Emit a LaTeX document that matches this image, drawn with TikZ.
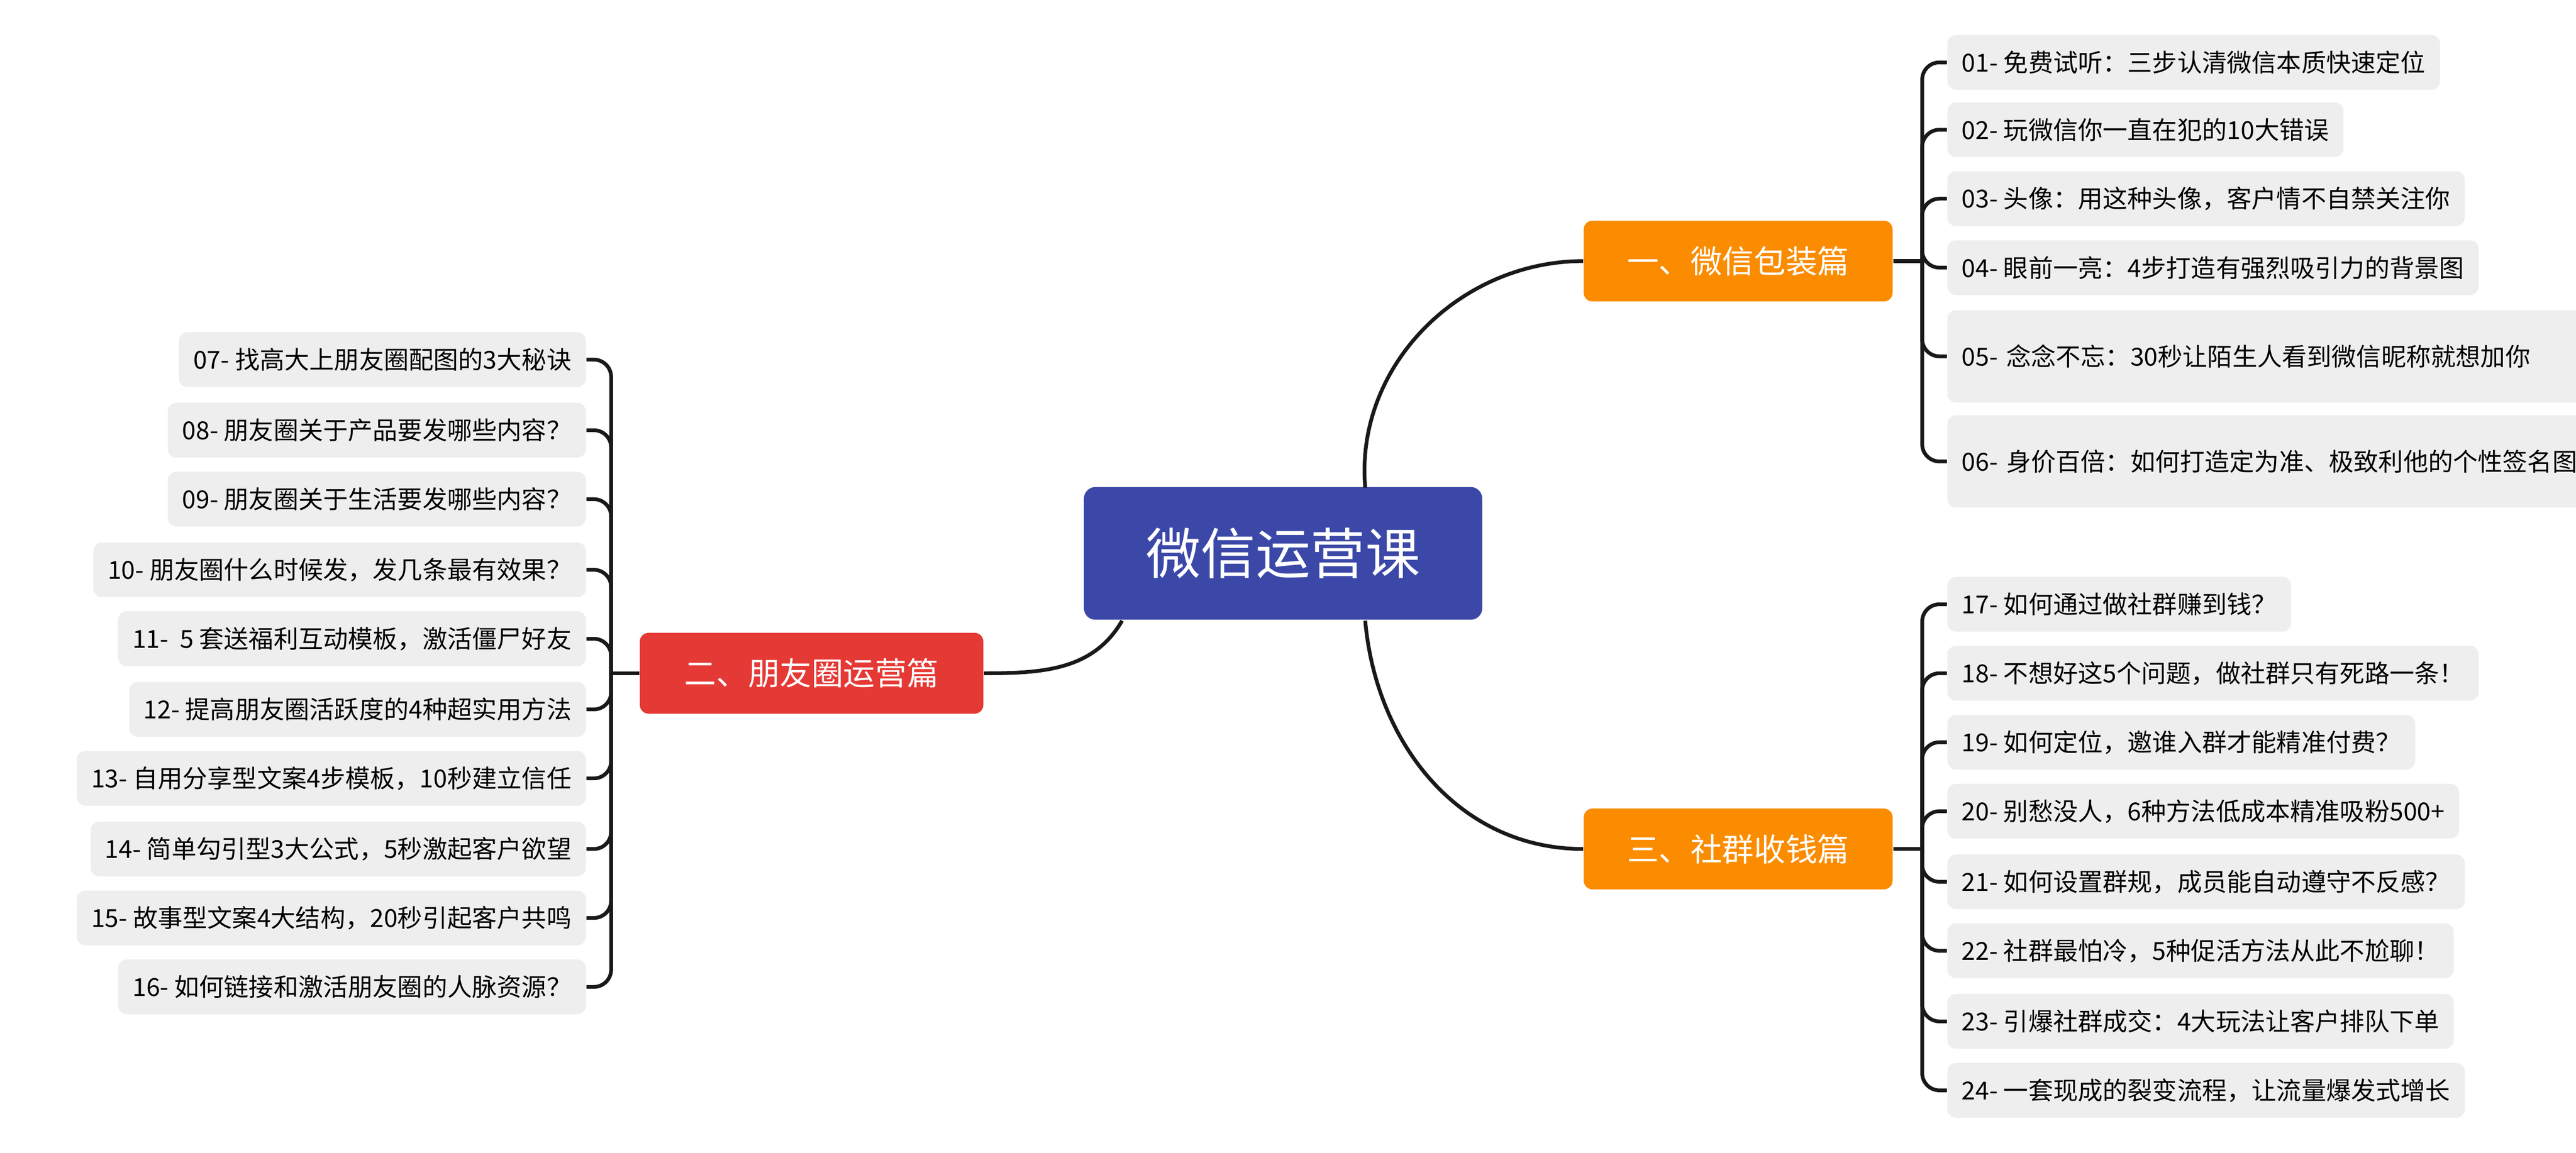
\documentclass[tikz,border=0pt]{standalone}
\usepackage{fontspec}
\setmainfont{Noto Sans CJK SC}
\definecolor{rootblue}{HTML}{3B48A8}
\definecolor{branchorange}{HTML}{FB8C00}
\definecolor{branchred}{HTML}{E53935}
\definecolor{leafgray}{HTML}{EEEEEE}
\tikzset{
  rootbox/.style={fill=rootblue, rounded corners=4pt, text=white, font=\fontsize{19}{22}\selectfont, minimum width=138pt, minimum height=46pt},
  branchbox/.style={rounded corners=3pt, text=white, font=\fontsize{11}{13}\selectfont, minimum height=28pt, inner xsep=10pt},
  leafbox/.style={fill=leafgray, rounded corners=3pt, font=\fontsize{8.6}{12}\selectfont, minimum height=19pt, inner xsep=5pt},
  link/.style={line width=1.3pt, black!90},
}
\begin{document}
\begin{tikzpicture}[x=0.02cm, y=-0.02cm]
    \useasboundingbox (0,0) rectangle (1568,702);
    % centre and branches
    \node[rootbox] (root) at (781,337) {微信运营课};
    \node[branchbox, fill=branchorange, minimum width=107pt] (pack) at (1058,159) {一、微信包装篇};
    \node[branchbox, fill=branchorange, minimum width=107pt] (group) at (1058,517) {三、社群收钱篇};
    \node[branchbox, fill=branchred, minimum width=119pt] (moment) at (494,410) {二、朋友圈运营篇};
    \draw[link] (831,297) to[out=95, in=180] (pack.west);
    \draw[link] (831,378) to[out=-85, in=180] (group.west);
    \draw[link] (683,378) to[out=-120, in=0] (moment.east);
    % right top leaves
    \coordinate (packbar) at (1170,159);
    \node[leafbox, anchor=west] (l01) at (1185,38) {01- 免费试听：三步认清微信本质快速定位};
    \node[leafbox, anchor=west] (l02) at (1185,79) {02- 玩微信你一直在犯的10大错误};
    \node[leafbox, anchor=west] (l03) at (1185,121) {03- 头像：用这种头像，客户情不自禁关注你};
    \node[leafbox, anchor=west] (l04) at (1185,163) {04- 眼前一亮：4步打造有强烈吸引力的背景图};
    \node[leafbox, anchor=west, text width=346, align=left, minimum height=32pt] (l05) at (1185,217) {05- 念念不忘：30秒让陌生人看到微信昵称就想加你};
    \node[leafbox, anchor=west, text width=344, align=left, minimum height=32pt] (l06) at (1185,281) {06- 身价百倍：如何打造定为准、极致利他的个性签名图};
    \draw[link] (pack.east) -- (packbar);
    \foreach \leaf in {l01,l02,l03,l04,l05,l06}
        \draw[link, rounded corners=6pt] (packbar) |- (\leaf.west);
    % right bottom leaves
    \coordinate (groupbar) at (1170,517);
    \node[leafbox, anchor=west] (l17) at (1185,368) {17- 如何通过做社群赚到钱？};
    \node[leafbox, anchor=west] (l18) at (1185,410) {18- 不想好这5个问题，做社群只有死路一条！};
    \node[leafbox, anchor=west] (l19) at (1185,452) {19- 如何定位，邀谁入群才能精准付费？};
    \node[leafbox, anchor=west] (l20) at (1185,494) {20- 别愁没人，6种方法低成本精准吸粉500+};
    \node[leafbox, anchor=west] (l21) at (1185,537) {21- 如何设置群规，成员能自动遵守不反感？};
    \node[leafbox, anchor=west] (l22) at (1185,579) {22- 社群最怕冷，5种促活方法从此不尬聊！};
    \node[leafbox, anchor=west] (l23) at (1185,622) {23- 引爆社群成交：4大玩法让客户排队下单};
    \node[leafbox, anchor=west] (l24) at (1185,664) {24- 一套现成的裂变流程，让流量爆发式增长};
    \draw[link] (group.east) -- (groupbar);
    \foreach \leaf in {l17,l18,l19,l20,l21,l22,l23,l24}
        \draw[link, rounded corners=6pt] (groupbar) |- (\leaf.west);
    % left leaves
    \coordinate (momentbar) at (372,410);
    \node[leafbox, anchor=east] (l07) at (357,219) {07- 找高大上朋友圈配图的3大秘诀};
    \node[leafbox, anchor=east] (l08) at (357,262) {08- 朋友圈关于产品要发哪些内容？};
    \node[leafbox, anchor=east] (l09) at (357,304) {09- 朋友圈关于生活要发哪些内容？};
    \node[leafbox, anchor=east] (l10) at (357,347) {10- 朋友圈什么时候发，发几条最有效果？};
    \node[leafbox, anchor=east] (l11) at (357,389) {11- \ 5 套送福利互动模板，激活僵尸好友};
    \node[leafbox, anchor=east] (l12) at (357,432) {12- 提高朋友圈活跃度的4种超实用方法};
    \node[leafbox, anchor=east] (l13) at (357,474) {13- 自用分享型文案4步模板，10秒建立信任};
    \node[leafbox, anchor=east] (l14) at (357,517) {14- 简单勾引型3大公式，5秒激起客户欲望};
    \node[leafbox, anchor=east] (l15) at (357,559) {15- 故事型文案4大结构，20秒引起客户共鸣};
    \node[leafbox, anchor=east] (l16) at (357,601) {16- 如何链接和激活朋友圈的人脉资源？};
    \draw[link] (moment.west) -- (momentbar);
    \foreach \leaf in {l07,l08,l09,l10,l11,l12,l13,l14,l15,l16}
        \draw[link, rounded corners=6pt] (momentbar) |- (\leaf.east);
\end{tikzpicture}
\end{document}
